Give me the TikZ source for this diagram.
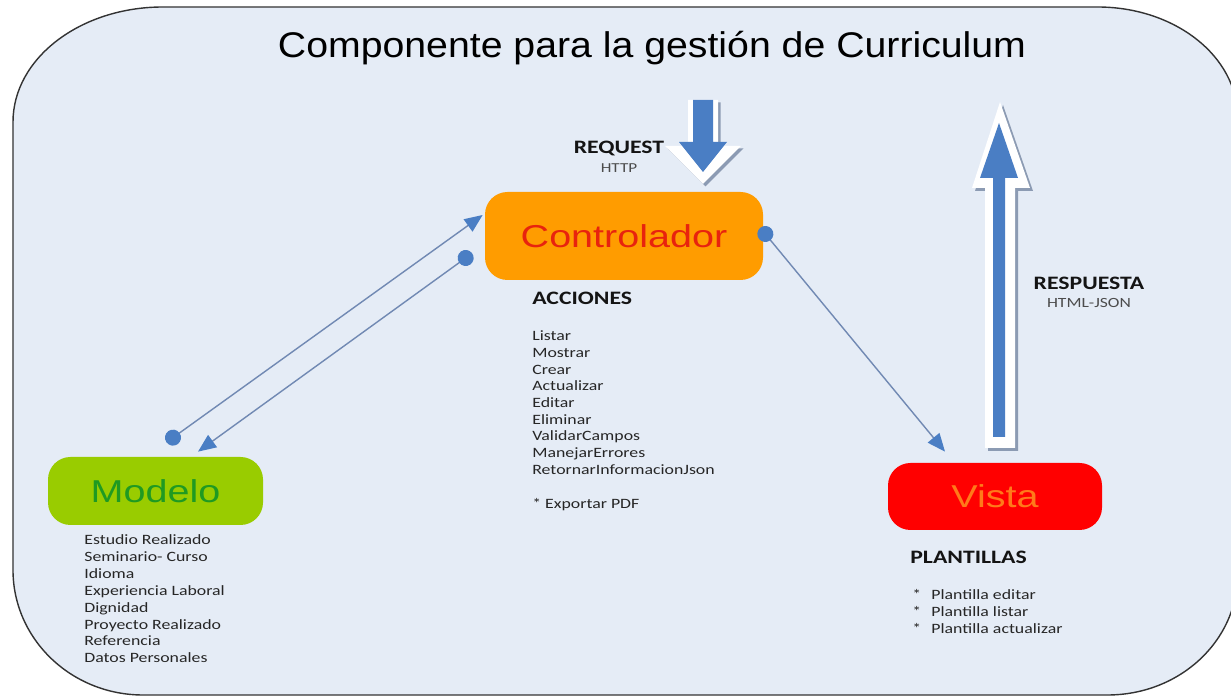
\documentclass[tikz,border=0pt]{standalone}
\usepackage{fontspec}
\setmainfont{Carlito}[FakeStretch=1.25]
\newfontfamily\arialfont{Liberation Sans}[FakeStretch=1.25]
\newfontfamily\titlefont{Liberation Sans}[FakeStretch=1.1]
\usepackage{xcolor}
\usepackage{tikz}
\usetikzlibrary{arrows.meta,calc,positioning}

\definecolor{fondo}{HTML}{E5ECF6}
\definecolor{naranja}{HTML}{FF9C00}
\definecolor{rojotexto}{HTML}{E8230E}
\definecolor{verdecaja}{HTML}{99CC00}
\definecolor{verdetexto}{HTML}{1F9A22}
\definecolor{rojocaja}{HTML}{FF0000}
\definecolor{naranjatexto}{HTML}{FF7A1A}
\definecolor{azulflecha}{HTML}{4A7EC4}
\definecolor{grislinea}{HTML}{7189B3}
\definecolor{grissombra}{HTML}{8C9BB3}
\definecolor{textogris}{HTML}{262626}

\tikzset{
	componente/.style={rounded corners=0.45cm, inner sep=0pt, font=\arialfont\fontsize{18}{22}\selectfont},
	enlace/.style={draw=grislinea, line width=0.8pt, arrows={Circle[length=3.2mm,color=azulflecha]-Triangle[length=3.6mm,width=3mm,color=azulflecha]}},
	lista/.style={align=left, anchor=north west, inner sep=0pt, text=textogris, font=\fontsize{8.1}{9.6}\selectfont},
	encabezado/.style={inner sep=0pt, text=black!92, font=\bfseries\fontsize{10.8}{13}\selectfont},
	subtexto/.style={inner sep=0pt, text=black!70, font=\fontsize{7.8}{9}\selectfont},
}

\begin{document}
\begin{tikzpicture}
	\useasboundingbox (0,0) rectangle (24.62,13.98);
	\fill[white] (0,0) rectangle (24.62,13.98);
	% marco del componente
	\draw[fill=fondo, draw=black!80, line width=0.8pt] (0.26,2.58) -- (0.26,11.54)
		arc[start angle=180, end angle=90, x radius=3.0, y radius=2.3] -- (21.95,13.84)
		arc[start angle=90, end angle=0, x radius=2.8, y radius=2.2] -- (24.75,2.48)
		arc[start angle=0, end angle=-90, x radius=2.6, y radius=2.4] -- (2.86,0.08)
		arc[start angle=-90, end angle=-180, x radius=2.6, y radius=2.5] -- cycle;
	\node[font=\titlefont\fontsize{20.3}{24}\selectfont] (titulo) at (13.04,13.02) {Componente para la gestión de Curriculum};

	% componentes
	\node[componente, fill=naranja, text=rojotexto, minimum width=5.56cm, minimum height=1.76cm] (controlador) at (12.48,9.26) {Controlador};
	\node[componente, fill=verdecaja, text=verdetexto, minimum width=4.3cm, minimum height=1.36cm] (modelo) at (3.11,4.16) {Modelo};
	\node[componente, fill=rojocaja, text=naranjatexto, minimum width=4.28cm, minimum height=1.34cm] (vista) at (19.9,4.05) {Vista};

	% flecha de entrada
	\fill[grissombra, shift={(0.05,-0.05)}] (13.76,11.98) -- (14.36,11.98) -- (14.36,11.06) -- (14.82,11.06) -- (14.06,10.30) -- (13.30,11.06) -- (13.76,11.06) -- cycle;
	\fill[white] (13.76,11.98) -- (14.36,11.98) -- (14.36,11.06) -- (14.82,11.06) -- (14.06,10.30) -- (13.30,11.06) -- (13.76,11.06) -- cycle;
	\fill[azulflecha] (13.86,11.98) -- (14.26,11.98) -- (14.26,11.14) -- (14.54,11.14) -- (14.06,10.54) -- (13.58,11.14) -- (13.86,11.14) -- cycle;
	\node[encabezado] (request) at (12.38,11.02) {REQUEST};
	\node[subtexto, below=0.16cm of request] (http) {HTTP};

	% flecha de respuesta
	\fill[grissombra, shift={(0.06,-0.06)}] (19.70,5.02) -- (20.30,5.02) -- (20.30,10.22) -- (20.60,10.22) -- (20.00,11.94) -- (19.44,10.22) -- (19.70,10.22) -- cycle;
	\fill[white] (19.70,5.02) -- (20.30,5.02) -- (20.30,10.22) -- (20.60,10.22) -- (20.00,11.94) -- (19.44,10.22) -- (19.70,10.22) -- cycle;
	\fill[azulflecha] (19.86,5.24) -- (20.10,5.24) -- (20.10,10.42) -- (20.36,10.42) -- (19.98,11.52) -- (19.60,10.42) -- (19.86,10.42) -- cycle;
	\node[encabezado] (respuesta) at (21.78,8.32) {RESPUESTA};
	\node[subtexto, font=\fontsize{8}{9}\selectfont, below=0.16cm of respuesta] (html) {HTML-JSON};

	% enlaces
	\coordinate (m-sal) at ($(modelo.north)+(0.35,0.38)$);
	\coordinate (c-ent) at ($(controlador.west)+(-0.04,0.42)$);
	\coordinate (c-sal) at ($(controlador.west)+(-0.38,-0.44)$);
	\coordinate (m-ent) at ($(modelo.north)+(0.85,0.10)$);
	\coordinate (c-der) at ($(controlador.east)+(0.04,0.04)$);
	\coordinate (v-ent) at ($(vista.north)+(-1.0,0.22)$);
	\draw[enlace] ($(m-sal)!-1.6mm!(c-ent)$) -- (c-ent);
	\draw[enlace] ($(c-sal)!-1.6mm!(m-ent)$) -- (m-ent);
	\draw[enlace] ($(c-der)!-1.6mm!(v-ent)$) -- (v-ent);

	% acciones
	\node[encabezado, anchor=west] (acciones) at (10.64,8.02) {ACCIONES};
	\node[lista, font=\fontsize{8.1}{9.5}\selectfont] (acciones-lista) at (10.64,7.37) {Listar\\ Mostrar\\ Crear\\ Actualizar\\ Editar\\ Eliminar\\ ValidarCampos\\ ManejarErrores\\ RetornarInformacionJson};
	\node[lista, anchor=west] (exportar) at (10.64,3.88) {* Exportar PDF};

	% modelo
	\node[lista] (modelo-lista) at (1.68,3.29) {Estudio Realizado\\ Seminario- Curso\\ Idioma\\ Experiencia Laboral\\ Dignidad\\ Proyecto Realizado\\ Referencia\\ Datos Personales};

	% plantillas
	\node[encabezado, anchor=west] (plantillas) at (18.2,2.84) {PLANTILLAS};
	\node[lista] (plantillas-lista) at (18.24,2.19) {*\hspace{5.8pt}Plantilla editar\\ *\hspace{5.8pt}Plantilla listar\\ *\hspace{5.8pt}Plantilla actualizar};
\end{tikzpicture}
\end{document}
